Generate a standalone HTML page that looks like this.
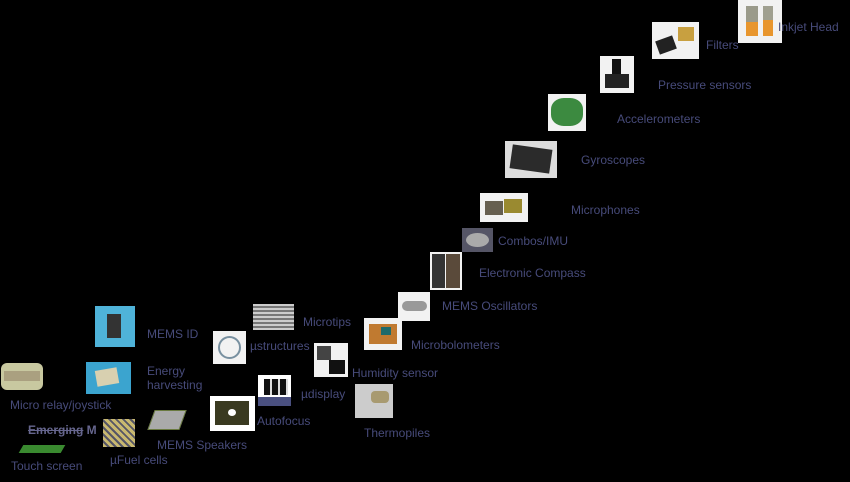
<!DOCTYPE html>
<html><head><style>
body{margin:0;width:850px;height:482px;background:#000;position:relative;overflow:hidden;font-family:"Liberation Sans",sans-serif}
.t{position:absolute;color:#474b7a;font-size:12px;white-space:nowrap;line-height:14px}
.i{position:absolute;background:#f2f2f2}
.i i{position:absolute;display:block}
</style></head><body>
<div class="i" style="left:738px;top:0;width:44px;height:43px"><i style="left:8px;top:6px;width:12px;height:30px;background:#9a9a8a"></i><i style="left:8px;top:22px;width:12px;height:14px;background:#e8962e"></i><i style="left:25px;top:6px;width:10px;height:30px;background:#a0a090"></i><i style="left:25px;top:20px;width:10px;height:16px;background:#e8962e"></i></div>
<div class="i" style="left:652px;top:22px;width:47px;height:37px"><i style="left:5px;top:16px;width:18px;height:14px;background:#222;transform:rotate(-20deg)"></i><i style="left:26px;top:5px;width:16px;height:14px;background:#c8a040"></i></div>
<div class="i" style="left:600px;top:56px;width:34px;height:37px"><i style="left:12px;top:3px;width:9px;height:18px;background:#111"></i><i style="left:5px;top:18px;width:24px;height:14px;background:#222"></i></div>
<div class="i" style="left:548px;top:94px;width:38px;height:37px"><i style="left:3px;top:4px;width:32px;height:28px;background:#3c8a40;border-radius:40%"></i></div>
<div class="i" style="left:505px;top:141px;width:52px;height:37px;background:#ddd"><i style="left:6px;top:6px;width:40px;height:24px;background:#2b2b2b;transform:rotate(8deg)"></i></div>
<div class="i" style="left:480px;top:193px;width:48px;height:29px"><i style="left:5px;top:8px;width:18px;height:14px;background:#665f50"></i><i style="left:24px;top:6px;width:18px;height:14px;background:#9a8a30"></i></div>
<div class="i" style="left:462px;top:228px;width:31px;height:24px;background:#556"><i style="left:4px;top:5px;width:23px;height:14px;background:#aaa;border-radius:50%"></i></div>
<div class="i" style="left:430px;top:252px;width:32px;height:38px"><i style="left:2px;top:2px;width:13px;height:34px;background:#333"></i><i style="left:16px;top:2px;width:14px;height:34px;background:#5a4a3a"></i></div>
<div class="i" style="left:398px;top:292px;width:32px;height:29px"><i style="left:4px;top:9px;width:25px;height:10px;background:#999;border-radius:5px"></i></div>
<div class="i" style="left:364px;top:318px;width:38px;height:32px"><i style="left:5px;top:6px;width:28px;height:20px;background:#c07a30"></i><i style="left:17px;top:9px;width:10px;height:8px;background:#1e6a6a"></i></div>
<div class="i" style="left:253px;top:304px;width:41px;height:26px;background:repeating-linear-gradient(0deg,#ccc 0 2px,#777 2px 4px)"></div>
<div class="i" style="left:213px;top:331px;width:33px;height:33px"><i style="left:5px;top:5px;width:19px;height:19px;border:2px solid #7890a0;border-radius:50%"></i></div>
<div class="i" style="left:314px;top:343px;width:34px;height:34px"><i style="left:3px;top:3px;width:14px;height:14px;background:#444"></i><i style="left:15px;top:17px;width:16px;height:14px;background:#111"></i></div>
<div class="i" style="left:258px;top:375px;width:33px;height:31px;background:#fff"><i style="left:0;top:22px;width:33px;height:9px;background:#4a5080"></i><i style="left:6px;top:4px;width:24px;height:16px;background:repeating-linear-gradient(90deg,#111 0 6px,#ddd 6px 8px)"></i></div>
<div class="i" style="left:355px;top:384px;width:38px;height:34px;background:#ccc"><i style="left:16px;top:7px;width:18px;height:12px;background:#a89a70;border-radius:4px"></i></div>
<div class="i" style="left:210px;top:396px;width:45px;height:35px;background:#fff"><i style="left:5px;top:5px;width:34px;height:24px;background:#3a3a20"></i><i style="left:18px;top:13px;width:8px;height:7px;background:#fff;border-radius:50%"></i></div>
<div class="i" style="left:95px;top:306px;width:40px;height:41px;background:#4fb3d9"><i style="left:12px;top:8px;width:14px;height:24px;background:#333"></i></div>
<div class="i" style="left:86px;top:362px;width:45px;height:32px;background:#3ba4cf"><i style="left:10px;top:7px;width:22px;height:16px;background:#d8d0b0;transform:rotate(-10deg)"></i></div>
<div class="i" style="left:1px;top:363px;width:42px;height:27px;background:#c8c8a0;border-radius:6px"><i style="left:3px;top:8px;width:36px;height:10px;background:#aaa080"></i></div>
<div class="i" style="left:148px;top:407px;width:39px;height:25px;background:transparent"><i style="left:3px;top:3px;width:30px;height:18px;background:#aaa;border:1px solid #6a7a40;transform:skewX(-20deg)"></i></div>
<div class="i" style="left:103px;top:419px;width:32px;height:28px;background:repeating-linear-gradient(45deg,#c8b870 0 3px,#556 3px 5px)"></div>
<div class="i" style="left:17px;top:443px;width:53px;height:12px;background:transparent"><i style="left:4px;top:2px;width:42px;height:8px;background:#3a8a30;transform:skewX(-30deg)"></i></div>
<div class="t" style="left:778px;top:20px">Inkjet Head</div>
<div class="t" style="left:706px;top:38px">Filters</div>
<div class="t" style="left:658px;top:78px">Pressure sensors</div>
<div class="t" style="left:617px;top:112px">Accelerometers</div>
<div class="t" style="left:581px;top:153px">Gyroscopes</div>
<div class="t" style="left:571px;top:203px">Microphones</div>
<div class="t" style="left:498px;top:234px">Combos/IMU</div>
<div class="t" style="left:479px;top:266px">Electronic Compass</div>
<div class="t" style="left:442px;top:299px">MEMS Oscillators</div>
<div class="t" style="left:411px;top:338px">Microbolometers</div>
<div class="t" style="left:303px;top:315px">Microtips</div>
<div class="t" style="left:250px;top:339px">µstructures</div>
<div class="t" style="left:352px;top:366px">Humidity sensor</div>
<div class="t" style="left:301px;top:387px">µdisplay</div>
<div class="t" style="left:364px;top:426px">Thermopiles</div>
<div class="t" style="left:257px;top:414px">Autofocus</div>
<div class="t" style="left:147px;top:327px">MEMS ID</div>
<div class="t" style="left:147px;top:364px">Energy<br>harvesting</div>
<div class="t" style="left:10px;top:398px">Micro relay/joystick</div>
<div class="t" style="left:28px;top:423px;color:#66668e;font-weight:bold"><span style="text-decoration:line-through">Emerging</span> M</div>
<div class="t" style="left:157px;top:438px">MEMS Speakers</div>
<div class="t" style="left:110px;top:453px">µFuel cells</div>
<div class="t" style="left:11px;top:459px">Touch screen</div>
</body></html>
